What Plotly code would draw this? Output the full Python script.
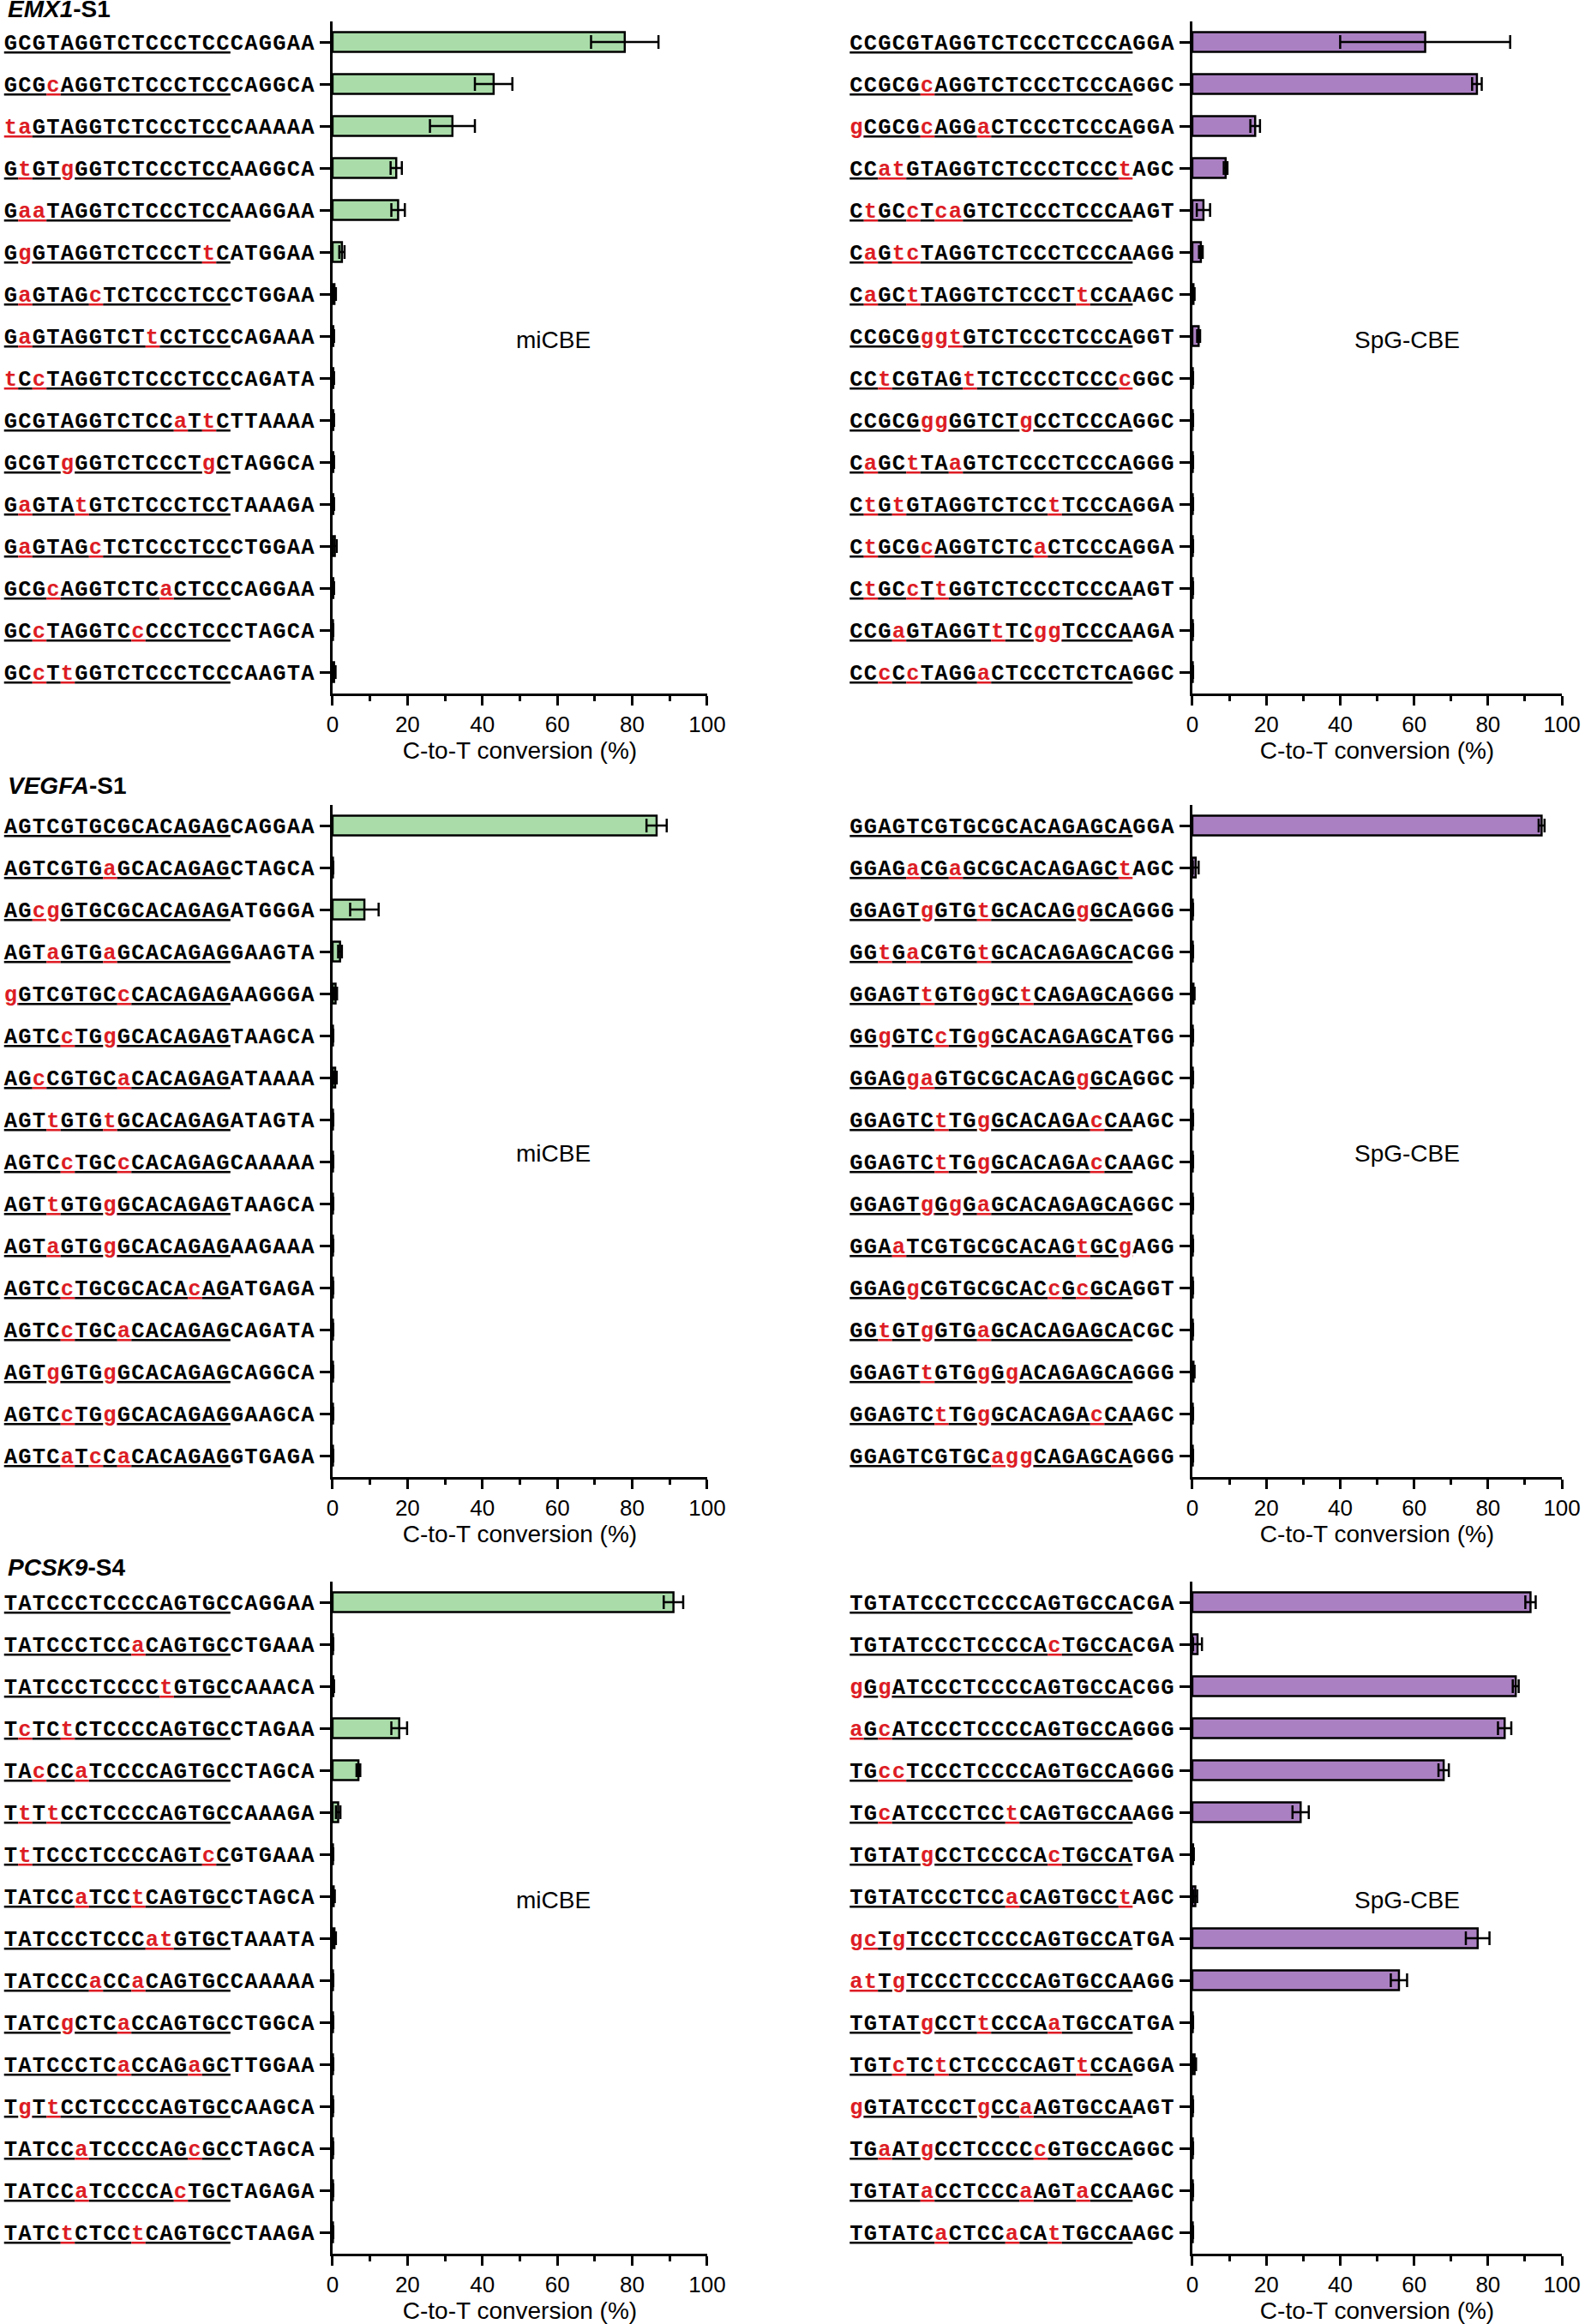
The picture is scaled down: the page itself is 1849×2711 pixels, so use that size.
import plotly.graph_objects as go

# ---------------- data ----------------
rows_n = 16
row_index = list(range(rows_n))

emx1_mi_seqs = ["GCGTAGGTCTCCCTCCCAGGAA", "GCGcAGGTCTCCCTCCCAGGCA", "taGTAGGTCTCCCTCCCAAAAA",
                "GtGTgGGTCTCCCTCCAAGGCA", "GaaTAGGTCTCCCTCCAAGGAA", "GgGTAGGTCTCCCTtCATGGAA",
                "GaGTAGcTCTCCCTCCCTGGAA", "GaGTAGGTCTtCCTCCCAGAAA", "tCcTAGGTCTCCCTCCCAGATA",
                "GCGTAGGTCTCCaTtCTTAAAA", "GCGTgGGTCTCCCTgCTAGGCA", "GaGTAtGTCTCCCTCCTAAAGA",
                "GaGTAGcTCTCCCTCCCTGGAA", "GCGcAGGTCTCaCTCCCAGGAA", "GCcTAGGTCcCCCTCCCTAGCA",
                "GCcTtGGTCTCCCTCCCAAGTA"]
emx1_mi_mean = [78, 43, 32, 17, 17.5, 2.5, 0.5, 0.2, 0.2, 0.2, 0.2, 0.2, 0.6, 0.2, 0.1, 0.4]
emx1_mi_sd = [9, 5, 6, 1.5, 1.8, 0.7, 0.4, 0.2, 0.2, 0.2, 0.2, 0.2, 0.5, 0.2, 0.1, 0.4]

emx1_spg_seqs = ["CCGCGTAGGTCTCCCTCCCAGGA", "CCGCGcAGGTCTCCCTCCCAGGC", "gCGCGcAGGaCTCCCTCCCAGGA",
                 "CCatGTAGGTCTCCCTCCCtAGC", "CtGCcTcaGTCTCCCTCCCAAGT", "CaGtcTAGGTCTCCCTCCCAAGG",
                 "CaGCtTAGGTCTCCCTtCCAAGC", "CCGCGggtGTCTCCCTCCCAGGT", "CCtCGTAGtTCTCCCTCCCcGGC",
                 "CCGCGggGGTCTgCCTCCCAGGC", "CaGCtTAaGTCTCCCTCCCAGGG", "CtGtGTAGGTCTCCtTCCCAGGA",
                 "CtGCGcAGGTCTCaCTCCCAGGA", "CtGCcTtGGTCTCCCTCCCAAGT", "CCGaGTAGGTtTCggTCCCAAGA",
                 "CCcCcTAGGaCTCCCTCTCAGGC"]
emx1_spg_mean = [63, 77, 17, 9, 3, 2.3, 0.3, 1.7, 0.1, 0.1, 0.1, 0.1, 0.1, 0.1, 0.1, 0.1]
emx1_spg_sd = [23, 1.3, 1.3, 0.5, 1.8, 0.5, 0.3, 0.4, 0.1, 0.1, 0.1, 0.1, 0.1, 0.1, 0.1, 0.1]

vegfa_mi_seqs = ["AGTCGTGCGCACAGAGCAGGAA", "AGTCGTGaGCACAGAGCTAGCA", "AGcgGTGCGCACAGAGATGGGA",
                 "AGTaGTGaGCACAGAGGAAGTA", "gGTCGTGCcCACAGAGAAGGGA", "AGTCcTGgGCACAGAGTAAGCA",
                 "AGcCGTGCaCACAGAGATAAAA", "AGTtGTGtGCACAGAGATAGTA", "AGTCcTGCcCACAGAGCAAAAA",
                 "AGTtGTGgGCACAGAGTAAGCA", "AGTaGTGgGCACAGAGAAGAAA", "AGTCcTGCGCACAcAGATGAGA",
                 "AGTCcTGCaCACAGAGCAGATA", "AGTgGTGgGCACAGAGCAGGCA", "AGTCcTGgGCACAGAGGAAGCA",
                 "AGTCaTcCaCACAGAGGTGAGA"]
vegfa_mi_mean = [86.5, 0.1, 8.5, 2.0, 0.8, 0.1, 0.7, 0.1, 0.1, 0.1, 0.1, 0.1, 0.1, 0.1, 0.1, 0.1]
vegfa_mi_sd = [2.7, 0.1, 3.8, 0.5, 0.4, 0.1, 0.4, 0.1, 0.1, 0.1, 0.1, 0.1, 0.1, 0.1, 0.1, 0.1]

vegfa_spg_seqs = ["GGAGTCGTGCGCACAGAGCAGGA", "GGAGaCGaGCGCACAGAGCtAGC", "GGAGTgGTGtGCACAGgGCAGGG",
                  "GGtGaCGTGtGCACAGAGCACGG", "GGAGTtGTGgGCtCAGAGCAGGG", "GGgGTCcTGgGCACAGAGCATGG",
                  "GGAGgaGTGCGCACAGgGCAGGC", "GGAGTCtTGgGCACAGAcCAAGC", "GGAGTCtTGgGCACAGAcCAAGC",
                  "GGAGTgGgGaGCACAGAGCAGGC", "GGAaTCGTGCGCACAGtGCgAGG", "GGAGgCGTGCGCACcGcGCAGGT",
                  "GGtGTgGTGaGCACAGAGCACGC", "GGAGTtGTGgGgACAGAGCAGGG", "GGAGTCtTGgGCACAGAcCAAGC",
                  "GGAGTCGTGCaggCAGAGCAGGG"]
vegfa_spg_mean = [94.5, 0.9, 0.1, 0.1, 0.3, 0.1, 0.1, 0.1, 0.1, 0.1, 0.1, 0.1, 0.1, 0.3, 0.1, 0.1]
vegfa_spg_sd = [0.8, 0.8, 0.1, 0.1, 0.3, 0.1, 0.1, 0.1, 0.1, 0.1, 0.1, 0.1, 0.1, 0.3, 0.1, 0.1]

pcsk9_mi_seqs = ["TATCCCTCCCCAGTGCCAGGAA", "TATCCCTCCaCAGTGCCTGAAA", "TATCCCTCCCCtGTGCCAAACA",
                 "TcTCtCTCCCCAGTGCCTAGAA", "TAcCCaTCCCCAGTGCCTAGCA", "TtTtCCTCCCCAGTGCCAAAGA",
                 "TtTCCCTCCCCAGTcCGTGAAA", "TATCCaTCCtCAGTGCCTAGCA", "TATCCCTCCCatGTGCTAAATA",
                 "TATCCCaCCaCAGTGCCAAAAA", "TATCgCTCaCCAGTGCCTGGCA", "TATCCCTCaCCAGaGCTTGGAA",
                 "TgTtCCTCCCCAGTGCCAAGCA", "TATCCaTCCCCAGcGCCTAGCA", "TATCCaTCCCCAcTGCTAGAGA",
                 "TATCtCTCCtCAGTGCCTAAGA"]
pcsk9_mi_mean = [91, 0.1, 0.2, 17.8, 6.9, 1.5, 0.1, 0.3, 0.5, 0.1, 0.1, 0.1, 0.1, 0.1, 0.1, 0.1]
pcsk9_mi_sd = [2.6, 0.1, 0.2, 2.1, 0.5, 0.6, 0.1, 0.3, 0.4, 0.1, 0.1, 0.1, 0.1, 0.1, 0.1, 0.1]

pcsk9_spg_seqs = ["TGTATCCCTCCCCAGTGCCACGA", "TGTATCCCTCCCCAcTGCCACGA", "gGgATCCCTCCCCAGTGCCACGG",
                  "aGcATCCCTCCCCAGTGCCAGGG", "TGccTCCCTCCCCAGTGCCAGGG", "TGcATCCCTCCtCAGTGCCAAGG",
                  "TGTATgCCTCCCCAcTGCCATGA", "TGTATCCCTCCaCAGTGCCtAGC", "gcTgTCCCTCCCCAGTGCCATGA",
                  "atTgTCCCTCCCCAGTGCCAAGG", "TGTATgCCTtCCCAaTGCCATGA", "TGTcTCtCTCCCCAGTtCCAGGA",
                  "gGTATCCCTgCCaAGTGCCAAGT", "TGaATgCCTCCCCcGTGCCAGGC", "TGTATaCCTCCCaAGTaCCAAGC",
                  "TGTATCaCTCCaCAtTGCCAAGC"]
pcsk9_spg_mean = [91.5, 1.4, 87.5, 84.5, 68, 29.3, 0.2, 0.8, 77.2, 55.9, 0.1, 0.6, 0.1, 0.1, 0.1, 0.1]
pcsk9_spg_sd = [1.4, 1.2, 0.8, 1.8, 1.4, 2.2, 0.2, 0.5, 3.2, 2.2, 0.1, 0.4, 0.1, 0.1, 0.1, 0.1]

site_titles = ["<b><i>EMX1</i>-S1</b>", "<b><i>VEGFA</i>-S1</b>", "<b><i>PCSK9</i>-S4</b>"]
editor_names = ["miCBE", "SpG-CBE"]
x_title = "C-to-T conversion (%)"
x_ticks = [0, 20, 40, 60, 80, 100]

# ---------------- styling ----------------
W, H = 1849, 2711
GREEN = "#a9dca9"
PURPLE = "#ab80c2"
RED = "#dd1c24"
SEQ_FONT = "Liberation Mono"
SANS = "Liberation Sans, Arial"
SEQ_SIZE = 25.5
LETTER_SP = "1.2px"

x_domains = [[387 / W, 831 / W], [1406 / W, 1844 / W]]
# (top, bottom) pixel of y range [-0.5, 15.5]
row_px = [(24.5, 808.5), (938.5, 1722.5), (1844.5, 2628.5)]
title_px = [11, 916, 1829]
label_rows = [7.1, 7.8, 7.1]
label_x = [59, 58]
underline_len = [16, 20]


def fmt(seq, nul):
    out = []
    i = 0
    while i < len(seq):
        red = seq[i].islower()
        ul = i < nul
        j = i
        while j < len(seq) and seq[j].islower() == red and (j < nul) == ul:
            j += 1
        text = seq[i:j]
        style = ["letter-spacing:" + LETTER_SP]
        if red:
            style.append("color:" + RED)
        if ul:
            style.append("text-decoration:underline")
        out.append('<span style="%s">%s</span>' % (";".join(style), text))
        i = j
    return "".join(out)


panels = [
    (emx1_mi_seqs, emx1_mi_mean, emx1_mi_sd),
    (emx1_spg_seqs, emx1_spg_mean, emx1_spg_sd),
    (vegfa_mi_seqs, vegfa_mi_mean, vegfa_mi_sd),
    (vegfa_spg_seqs, vegfa_spg_mean, vegfa_spg_sd),
    (pcsk9_mi_seqs, pcsk9_mi_mean, pcsk9_mi_sd),
    (pcsk9_spg_seqs, pcsk9_spg_mean, pcsk9_spg_sd),
]

fig = go.Figure()
layout = dict(width=W, height=H, margin=dict(l=0, r=0, t=0, b=0),
              paper_bgcolor="white", plot_bgcolor="white", showlegend=False,
              bargap=0.53, annotations=[])

for k, (seqs, mean, sd) in enumerate(panels):
    r, c = divmod(k, 2)
    n = k + 1
    sfx = "" if n == 1 else str(n)
    fig.add_trace(go.Bar(
        x=mean, y=row_index, orientation="h",
        xaxis="x" + sfx, yaxis="y" + sfx,
        marker=dict(color=GREEN if c == 0 else PURPLE, line=dict(color="black", width=2.5)),
        error_x=dict(type="data", array=sd, visible=True, color="black", thickness=2.5, width=8),
    ))
    top, bot = row_px[r]
    layout["xaxis" + sfx] = dict(
        domain=x_domains[c], anchor="y" + sfx, range=[0, 100],
        showline=True, linecolor="black", linewidth=3, showgrid=False, zeroline=False,
        ticks="outside", ticklen=11, tickwidth=2.5, tickcolor="black",
        tickvals=x_ticks, tickfont=dict(family=SANS, size=26, color="black"),
        minor=dict(dtick=10, ticks="outside", ticklen=6, tickwidth=2.5, tickcolor="black"),
        title=dict(text=x_title, font=dict(family=SANS, size=28, color="black"), standoff=6),
    )
    layout["yaxis" + sfx] = dict(
        domain=[1 - bot / H, 1 - top / H], anchor="x" + sfx, range=[15.5, -0.5],
        showline=True, linecolor="black", linewidth=3, showgrid=False, zeroline=False,
        ticks="outside", ticklen=12, tickwidth=2.5, tickcolor="black",
        tickvals=row_index, ticktext=[fmt(s, underline_len[c]) for s in seqs],
        tickfont=dict(family=SEQ_FONT, size=SEQ_SIZE, color="black", weight="bold"),
    )
    layout["annotations"].append(dict(
        xref="x" + sfx, yref="y" + sfx, x=label_x[c], y=label_rows[r],
        text=editor_names[c], showarrow=False, xanchor="center", yanchor="middle",
        font=dict(family=SANS, size=28, color="black")))
    if c == 0:
        layout["annotations"].append(dict(
            xref="paper", yref="paper", x=0, y=1 - title_px[r] / H,
            text=site_titles[r], showarrow=False, xanchor="left", yanchor="middle",
            font=dict(family=SANS, size=28, color="black")))

fig.update_layout(**layout)
fig.write_html("out.html", config={"displayModeBar": False},
               post_script="document.body.style.margin='0';")
